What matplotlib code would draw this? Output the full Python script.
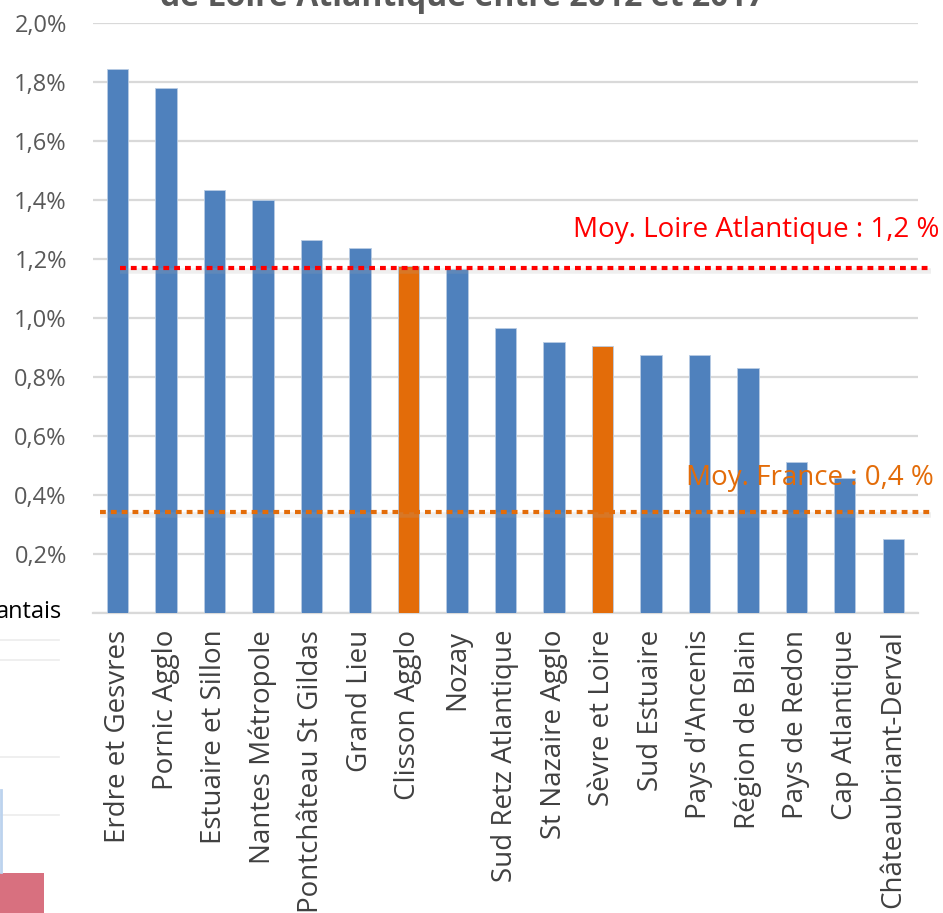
import matplotlib
matplotlib.use("Agg")
import matplotlib.pyplot as plt
from matplotlib.patches import Rectangle
from matplotlib.ticker import FuncFormatter

plt.rcParams['font.family'] = ['Open Sans', 'DejaVu Sans']

territoires = ["Erdre et Gesvres", "Pornic Agglo", "Estuaire et Sillon", "Nantes Métropole",
               "Pontchâteau St Gildas", "Grand Lieu", "Clisson Agglo", "Nozay",
               "Sud Retz Atlantique", "St Nazaire Agglo", "Sèvre et Loire", "Sud Estuaire",
               "Pays d'Ancenis", "Région de Blain", "Pays de Redon", "Cap Atlantique",
               "Châteaubriant-Derval"]
croissance = [1.843, 1.778, 1.435, 1.399, 1.264, 1.236, 1.176, 1.165, 0.965, 0.920,
              0.905, 0.875, 0.875, 0.830, 0.513, 0.459, 0.251]
mis_en_avant = ["Clisson Agglo", "Sèvre et Loire"]
moy_loire_atl = 1.168
moy_france = 0.343
y_ticks = [0.0, 0.2, 0.4, 0.6, 0.8, 1.0, 1.2, 1.4, 1.6, 1.8, 2.0]

BLUE = '#4f81bd'
ORANGE = '#e36c09'
GRID = '#d9d9d9'

fig = plt.figure(figsize=(9.43, 9.13), dpi=100)
ax = fig.add_axes([0.0989, 0.3286, 0.8741, 0.6462])

colors = [ORANGE if t in mis_en_avant else BLUE for t in territoires]
x = list(range(len(territoires)))
ax.bar(x, croissance, width=0.44, color=colors, edgecolor='#b8cce4', linewidth=0.6, zorder=3)

ax.set_xlim(-0.5, len(territoires) - 0.5)
ax.set_ylim(0, 2.0)
ax.set_yticks(y_ticks)
ax.yaxis.set_major_formatter(FuncFormatter(lambda v, p: '' if v == 0 else f"{v:.1f}%".replace('.', ',')))
ax.grid(axis='y', color=GRID, linewidth=1.6, zorder=0)
ax.tick_params(axis='y', length=0, pad=19, labelsize=17, labelcolor='#595959')
ax.tick_params(axis='x', length=0, pad=12, labelsize=20, labelcolor='#404040')
ax.set_xticks(x)
ax.set_xticklabels(territoires, rotation=90, va='top', ha='center')
for s in ['top', 'right', 'left']:
    ax.spines[s].set_visible(False)
ax.spines['bottom'].set_color(GRID)
ax.spines['bottom'].set_linewidth(1.6)

# lignes de moyenne (avec une ombre légère)
for val, col, x0 in [(moy_loire_atl, '#ff0000', 0.05), (moy_france, ORANGE, -0.36)]:
    ax.plot([x0, 16.77], [val - 0.01, val - 0.01], color='#aaaaaa', alpha=0.18, lw=4,
            solid_capstyle='butt', clip_on=False, zorder=4)
    ax.plot([x0, 16.77], [val, val], color=col, lw=3, linestyle=(0, (1.4, 1.2)),
            dash_capstyle='butt', clip_on=False, zorder=5)

fig.text(0.996, 1 - 237 / 913, "Moy. Loire Atlantique : 1,2 %", color='#ff0000',
         fontsize=20, ha='right', va='baseline')
fig.text(0.990, 1 - 485 / 913, "Moy. France : 0,4 %", color=ORANGE,
         fontsize=20, ha='right', va='baseline')

# titre coupé en haut de la capture
fig.text(0.49, 1 - 6 / 913, "de Loire Atlantique entre 2012 et 2017", color='#595959',
         fontsize=23, fontweight='bold', ha='center', va='baseline')

# fragment d'un autre graphique à gauche
fig.text(-0.004, 1 - 612 / 913, "antais", color='black', fontsize=17, ha='left', va='center')
for yy in [640, 660, 757, 815]:
    fig.add_artist(plt.Line2D([0, 0.063], [1 - yy / 913] * 2, color='#ececec', lw=1.2))
fig.add_artist(plt.Line2D([0.001, 0.001], [1 - 872 / 913, 1 - 790 / 913], color='#bcd3ee', lw=2))
fig.add_artist(Rectangle((0.0, 0.0), 0.047, 40 / 913, transform=fig.transFigure,
                         color='#d8707f', lw=0))

fig.savefig('out.png', dpi=100)
